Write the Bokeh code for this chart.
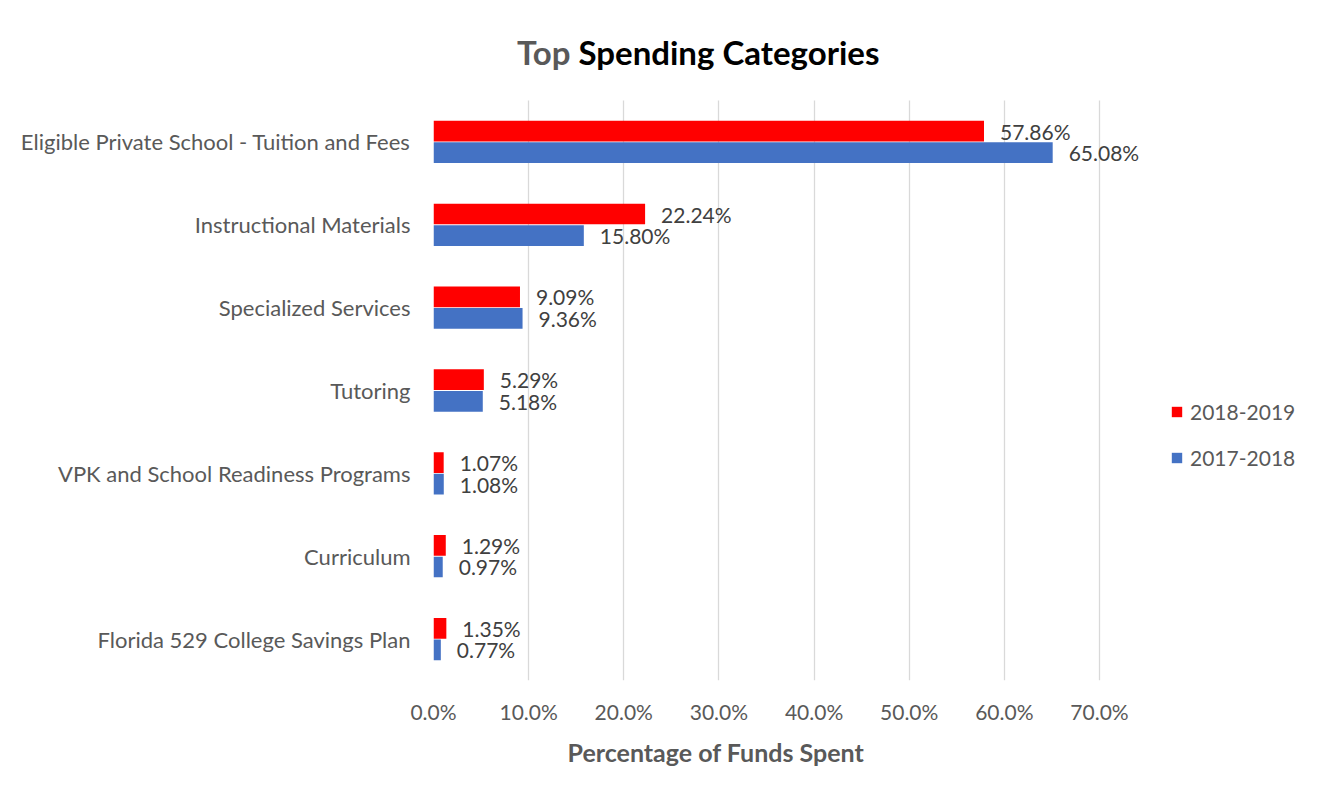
from bokeh.plotting import figure
from bokeh.models import (ColumnDataSource, Range1d, FixedTicker, LabelSet, Label, Legend,
                          LegendItem, Title)
from bokeh.embed import file_html
from bokeh.resources import INLINE
from bokeh.core.properties import value

# ---- data ----
categories = [
    "Eligible Private School - Tuition and Fees",
    "Instructional Materials",
    "Specialized Services",
    "Tutoring",
    "VPK and School Readiness Programs",
    "Curriculum",
    "Florida 529 College Savings Plan",
]
series_names = ["2018-2019", "2017-2018"]
values_2018_2019 = [57.86, 22.24, 9.09, 5.29, 1.07, 1.29, 1.35]
values_2017_2018 = [65.08, 15.80, 9.36, 5.18, 1.08, 0.97, 0.77]
x_ticks = [0, 10, 20, 30, 40, 50, 60, 70]
x_tick_labels = ["0.0%", "10.0%", "20.0%", "30.0%", "40.0%", "50.0%", "60.0%", "70.0%"]
title_parts = ["Top", "Spending Categories"]
x_title = "Percentage of Funds Spent"

# ---- layout ----
FONT = "Lato"
GREY = "#595959"
RED = "#FF0000"
BLUE = "#4472C4"
n = len(categories)
pos = [n - 1 - i for i in range(n)]
off = 0.13
bar_h = 0.25

W, H = 1312, 787
FL = 433            # frame left (px)
CT, CB = 100, 680   # category band top / bottom (px)
FW = W - FL
FH = CB             # frame spans from top of canvas to category band bottom
X70 = 1099          # pixel of 70%
ppx = (X70 - FL) / 70.0
ppy = (CB - CT) / n
x_end = FW / ppx
y_end = -0.5 + FH / ppy

def dx(px):
    return (px - FL) / ppx
def dy(py):
    return (n - 0.5) - (py - CT) / ppy

src_a = ColumnDataSource(dict(y=[p_ + off for p_ in pos], v=values_2018_2019,
                              t=["%.2f%%" % v for v in values_2018_2019]))
src_b = ColumnDataSource(dict(y=[p_ - off for p_ in pos], v=values_2017_2018,
                              t=["%.2f%%" % v for v in values_2017_2018]))

p = figure(frame_width=FW, frame_height=FH, output_backend="svg", toolbar_location=None,
           x_range=Range1d(0, x_end), y_range=Range1d(-0.5, y_end),
           min_border_left=FL, min_border_top=0, min_border_right=0,
           min_border_bottom=H - FH)
p.title.visible = False
p.outline_line_color = None
p.background_fill_color = "white"
p.border_fill_color = "white"

ra = p.hbar(y="y", right="v", left=0, height=bar_h, source=src_a, fill_color=RED, line_color=None)
rb = p.hbar(y="y", right="v", left=0, height=bar_h, source=src_b, fill_color=BLUE, line_color=None)

for s in (src_a, src_b):
    p.add_layout(LabelSet(x="v", y="y", text="t", source=s, x_offset=16,
                          text_align="left", text_baseline="middle",
                          text_font=value(FONT), text_font_size="21px", text_color="#404040"))

# axes
p.xaxis.ticker = FixedTicker(ticks=x_ticks)
p.xaxis.major_label_overrides = {t: l for t, l in zip(x_ticks, x_tick_labels)}
p.yaxis.ticker = FixedTicker(ticks=pos)
p.yaxis.major_label_overrides = {pp: c for pp, c in zip(pos, categories)}
for ax in (p.xaxis, p.yaxis):
    ax.axis_line_color = None
    ax.major_tick_line_color = None
    ax.minor_tick_line_color = None
    ax.major_tick_out = 0
    ax.major_tick_in = 0
    ax.major_label_text_font = FONT
    ax.major_label_text_color = GREY
p.xaxis.major_label_text_font_size = "21px"
p.yaxis.major_label_text_font_size = "22px"
p.xaxis.major_label_standoff = 18
p.yaxis.major_label_standoff = 23
p.xgrid.ticker = FixedTicker(ticks=x_ticks)
p.xgrid.bounds = (-1, 71)
p.xgrid.cross_bounds = (-0.5, n - 0.5)
p.xgrid.grid_line_color = "#D9D9D9"
p.xgrid.grid_line_width = 1.3
p.ygrid.grid_line_color = None

# title (two colours)
p.add_layout(Label(x=dx(570), y=dy(51), text=title_parts[0], text_align="right",
                   text_baseline="alphabetic", text_font=FONT, text_font_style="bold",
                   text_font_size="33px", text_color=GREY))
p.add_layout(Label(x=dx(578), y=dy(51), text=title_parts[1], text_align="left",
                   text_baseline="alphabetic", text_font=FONT, text_font_style="bold",
                   text_font_size="33px", text_color="black"))
# x axis title
p.add_layout(Title(text=x_title, align="left", offset=567 - FL, text_font=FONT,
                   text_font_style="bold", text_font_size="25px", text_color=GREY,
                   standoff=16), "below")

legend = Legend(items=[LegendItem(label=series_names[0], renderers=[ra]),
                       LegendItem(label=series_names[1], renderers=[rb])],
                location=(1170 - FL, CB - 470), orientation="vertical",
                glyph_width=13, glyph_height=13, label_height=20, label_standoff=7,
                spacing=21, padding=0, margin=0, border_line_color=None,
                background_fill_alpha=0, label_text_font=FONT,
                label_text_font_size="21px", label_text_color=GREY)
p.add_layout(legend, "center")

open("out.html", "w").write(file_html(p, INLINE))
